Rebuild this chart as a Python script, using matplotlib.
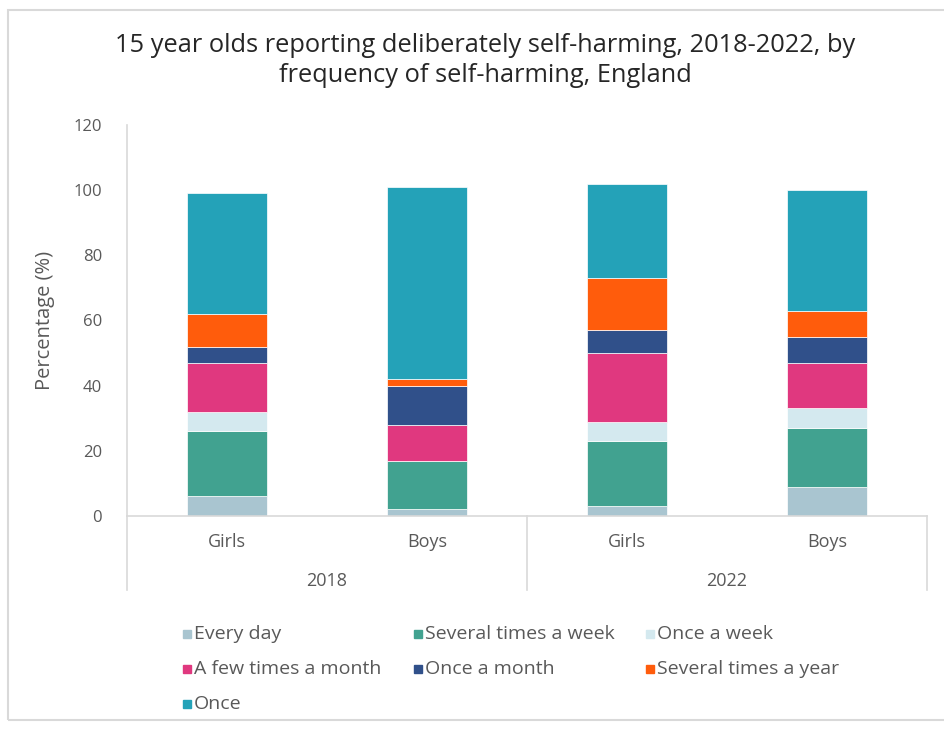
import matplotlib.pyplot as plt
from matplotlib.patches import Rectangle
from matplotlib.transforms import blended_transform_factory

plt.rcParams['font.family'] = ['Open Sans', 'DejaVu Sans']

# stacked share of self-harm frequency, by sex and survey year
sexes = ['Girls', 'Boys', 'Girls', 'Boys']
years = ['2018', '2022']
frequency = ['Every day', 'Several times a week', 'Once a week',
             'A few times a month', 'Once a month', 'Several times a year',
             'Once']
every_day = [6, 2, 3, 9]
several_week = [20, 15, 20, 18]
once_week = [6, 0, 6, 6]
few_month = [15, 11, 21, 14]
once_month = [5, 12, 7, 8]
several_year = [10, 2, 16, 8]
once = [37, 59, 29, 37]
series = [every_day, several_week, once_week, few_month, once_month,
          several_year, once]
colors = ['#a9c5d0', '#41a290', '#d4e9ef', '#e0387f', '#30508a',
          '#ff5c0c', '#24a2b8']

grey = '#595959'
axis_col = '#d9d9d9'

fig = plt.figure(figsize=(9.44, 7.31), dpi=100)
ax = fig.add_axes([0.1345, 0.2941, 0.8475, 0.535])

x = list(range(len(sexes)))
bottom = [0] * len(sexes)
for vals, col in zip(series, colors):
    ax.bar(x, vals, width=0.4, bottom=bottom, color=col,
           edgecolor='white', linewidth=0.5)
    bottom = [b + v for b, v in zip(bottom, vals)]

ax.set_xlim(-0.5, 3.5)
ax.set_ylim(0, 120)
ax.set_yticks(range(0, 121, 20))
ax.tick_params(axis='y', length=0, pad=18, labelsize=12, labelcolor=grey)
ax.set_xticks(x)
ax.set_xticklabels(sexes)
ax.tick_params(axis='x', length=0, pad=12, labelsize=13, labelcolor=grey)
for s in ['top', 'right']:
    ax.spines[s].set_visible(False)
for s in ['left', 'bottom']:
    ax.spines[s].set_color(axis_col)
    ax.spines[s].set_linewidth(1.2)
ax.set_ylabel('Percentage (%)', fontsize=14.5, color=grey)
ax.yaxis.set_label_coords(-0.09, 0.5)

# second level of the category axis: years and separators
tr = blended_transform_factory(ax.transData, ax.transAxes)
for sep in [-0.5, 1.5, 3.5]:
    ax.plot([sep, sep], [0, -0.19], transform=tr, color=axis_col,
            lw=1.2, clip_on=False)
for i, yr in enumerate(years):
    ax.text(0.5 + 2 * i, -0.166, yr, transform=tr, ha='center',
            va='center', fontsize=13, color=grey)

fig.text(0.514, 0.917,
         '15 year olds reporting deliberately self-harming, 2018-2022, by\n'
         'frequency of self-harming, England',
         ha='center', va='center', fontsize=18.3, color='#262626',
         fontweight='medium', linespacing=1.28)

# legend laid out in rows of three
col_x = [187, 418, 650]
row_y = [634, 669, 704]
for i, (name, col) in enumerate(zip(frequency, colors)):
    px = col_x[i % 3]
    py = row_y[i // 3]
    fig.patches.append(Rectangle(((px - 4) / 944, 1 - (py + 4) / 731),
                                 8 / 944, 8 / 731, color=col,
                                 transform=fig.transFigure))
    fig.text((px + 7) / 944, 1 - py / 731, name, ha='left', va='center',
             fontsize=14, color=grey)

# outer chart frame
fig.patches.append(Rectangle((8 / 944, 1 - 720 / 731), 1.2, 710 / 731,
                             fill=False, edgecolor=axis_col, lw=1.5,
                             transform=fig.transFigure))

fig.savefig('out.png', dpi=100, facecolor='white')
